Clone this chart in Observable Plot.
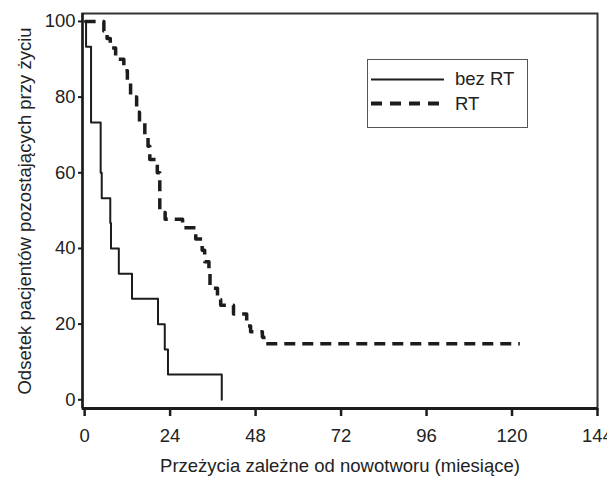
<!DOCTYPE html>
<html>
<head>
<meta charset="utf-8">
<script src="https://cdn.jsdelivr.net/npm/d3@7"></script>
<script src="https://cdn.jsdelivr.net/npm/@observablehq/plot@0.6"></script>
<style>
  html, body { margin: 0; padding: 0; background: #fff; }
  #wrap { position: relative; width: 607px; height: 478px; font-family: "Liberation Sans", Arial, sans-serif; color: #222; overflow: hidden; }
  #legend { position: absolute; left: 367px; top: 59px; width: 159px; height: 67px; border: 1.5px solid #555; background: #fff; box-sizing: content-box; }
  #legend svg { position: absolute; left: 0; }
  #legend span { position: absolute; left: 87px; white-space: nowrap; font-size: 18.5px; line-height: 18.5px; }
</style>
</head>
<body>
<div id="wrap"></div>
<script>
// Kaplan-Meier: bez RT (without radiotherapy)
const bezRT_months = [0, 0.4, 1.8, 4.5, 4.8, 7.2, 7.4, 9.6, 13.3, 20.6, 22.5, 23.4, 38.5];
const bezRT_surv   = [100, 93.3, 73.3, 60, 53.3, 46.7, 40, 33.3, 26.7, 20, 13.3, 6.7, 0];

// Kaplan-Meier: RT (with radiotherapy)
const RT_months = [0, 5.4, 6.3, 7.2, 8.7, 11.0, 12.0, 12.9, 14.6, 15.4, 16.9, 17.8, 18.3, 20.4, 21.1, 22.6, 27.5, 31.2, 33.0, 33.7, 34.9, 35.2, 37.3, 38.2, 41.8, 45.5, 46.6, 49.9, 50.3, 122.2];
const RT_surv   = [100, 97.5, 95.5, 93, 90, 87, 84, 80, 76, 73.5, 70, 67, 63.5, 60, 49.5, 47.7, 45.5, 42.5, 39.5, 36.5, 33.5, 29.5, 26.5, 25, 22.7, 19.5, 18, 16.6, 14.8, 14.8];

const xTicks = [0, 24, 48, 72, 96, 120, 144];
const yTicks = [0, 20, 40, 60, 80, 100];
const xDomain = [-0.6, 144];
const yDomain = [-2.3, 102.1];

const seriesNames = ["bez RT", "RT"];
const xLabel = "Przeżycia zależne od nowotworu (miesiące)";
const yLabel = "Odsetek pacjentów pozostających przy życiu";

const bez = bezRT_months.map((m, i) => ({m, s: bezRT_surv[i]}));
const rt = RT_months.map((m, i) => ({m, s: RT_surv[i]}));

const ink = "#1c1c1c";

const chart = Plot.plot({
  width: 607,
  height: 478,
  marginLeft: 82,
  marginRight: 10,
  marginTop: 13,
  marginBottom: 70,
  style: { fontFamily: "Liberation Sans, Arial, sans-serif", fontSize: "18.5px", color: "#222", background: "#fff", overflow: "visible" },
  x: { domain: xDomain },
  y: { domain: yDomain },
  marks: [
    Plot.frame({ stroke: "#333", strokeWidth: 2 }),
    Plot.ruleY([yDomain[0]], { stroke: ink, strokeWidth: 3 }),
    Plot.ruleX([xDomain[0]], { stroke: ink, strokeWidth: 2.5 }),
    Plot.axisX({ ticks: xTicks, tickSize: 8, tickPadding: 12, strokeWidth: 2.5, stroke: ink, fontSize: 18.5, fill: "#222",
      label: xLabel, labelAnchor: "center", labelOffset: 63, labelArrow: "none" }),
    Plot.axisY({ ticks: yTicks, tickSize: 4, tickPadding: 3, strokeWidth: 2, stroke: ink, fontSize: 18.5, fill: "#222",
      label: yLabel, labelAnchor: "center", labelOffset: 65, labelArrow: "none" }),
    Plot.line(bez, { x: "m", y: "s", curve: "step-after", stroke: ink, strokeWidth: 2 }),
    Plot.line(rt, { x: "m", y: "s", curve: "step-after", stroke: ink, strokeWidth: 3.5, strokeDasharray: "11,7", strokeLinecap: "butt" })
  ]
});

const wrap = document.getElementById("wrap");
wrap.appendChild(chart);

const legend = document.createElement("div");
legend.id = "legend";
legend.innerHTML = `
  <svg width="80" height="70" style="top:0">
    <line x1="3" x2="76" y1="19.5" y2="19.5" stroke="${ink}" stroke-width="2"/>
    <line x1="3" x2="76" y1="43.5" y2="43.5" stroke="${ink}" stroke-width="4" stroke-dasharray="11,8"/>
  </svg>
  <span style="top:10px">${seriesNames[0]}</span>
  <span style="top:35px">${seriesNames[1]}</span>`;
wrap.appendChild(legend);
</script>
</body>
</html>
